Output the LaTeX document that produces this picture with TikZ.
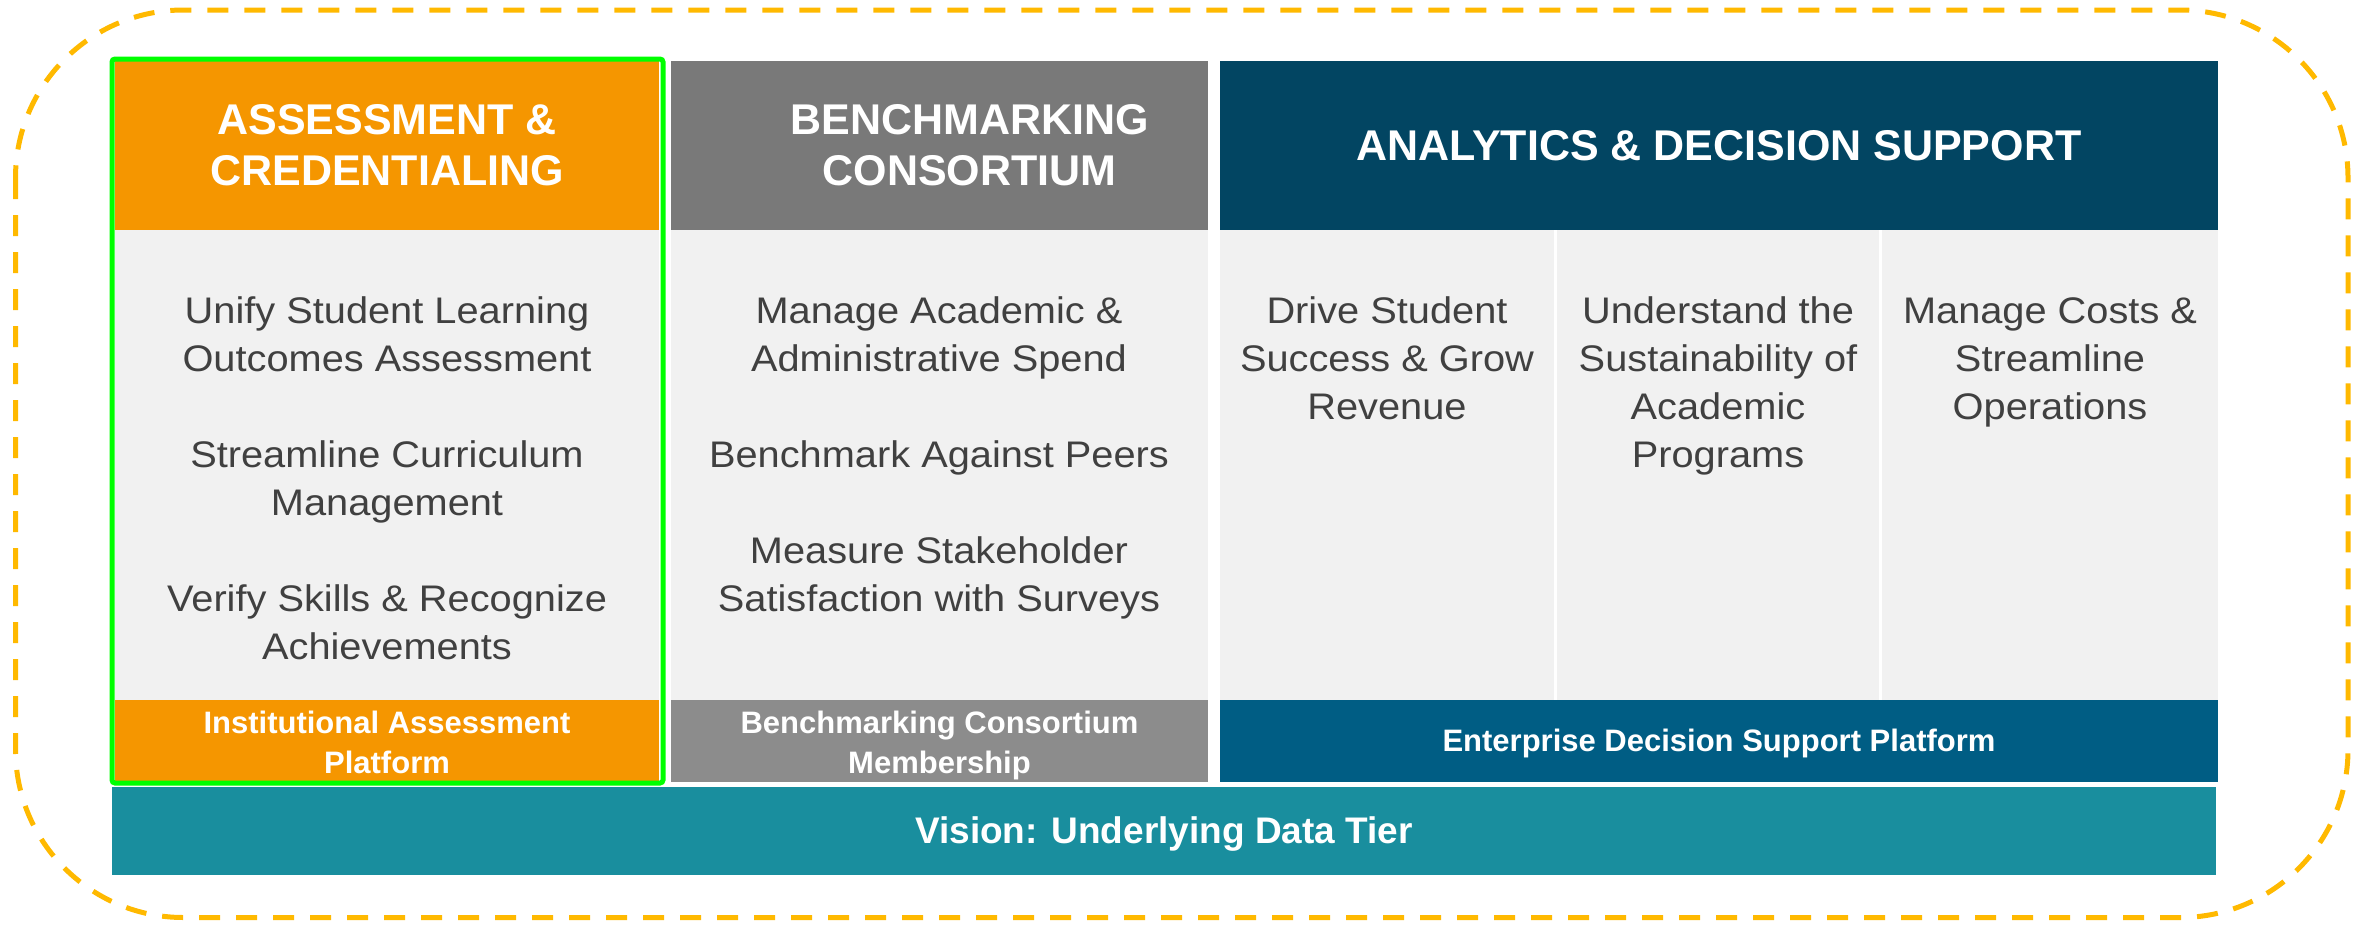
\documentclass[tikz,border=0pt]{standalone}
\usepackage{fontspec}
\setmainfont{Liberation Sans}
\newfontfamily\bodyfont{Liberation Sans}[FakeStretch=1.075]
\definecolor{cOrange}{RGB}{245,150,0}
\definecolor{cGrayH}{RGB}{121,121,121}
\definecolor{cNavy}{RGB}{2,69,98}
\definecolor{cLight}{RGB}{241,241,241}
\definecolor{cGrayF}{RGB}{140,140,140}
\definecolor{cBlueF}{RGB}{0,93,132}
\definecolor{cTeal}{RGB}{25,142,158}
\definecolor{cAmber}{RGB}{255,185,0}
\definecolor{cGreen}{RGB}{0,255,0}
\definecolor{cText}{RGB}{64,64,64}
\begin{document}
\begin{tikzpicture}[x=1pt,y=-1pt,
  cell/.style={inner sep=0pt, outer sep=0pt, anchor=north west, draw=none},
  headtxt/.style={inner sep=0pt, text=white, align=center, font=\bfseries\fontsize{43}{51}\selectfont},
  foottxt/.style={inner sep=0pt, text=white, align=center, font=\bfseries\fontsize{31}{40}\selectfont},
  visiontxt/.style={inner sep=0pt, text=white, align=center, font=\bfseries\fontsize{37}{44}\selectfont},
  bodytxt/.style={inner sep=0pt, anchor=north, text=cText, align=center, font=\bodyfont\fontsize{37}{48}\selectfont},
  dashframe/.style={draw=cAmber, line width=5pt, dash pattern=on 21pt off 16pt, rounded corners=168pt},
  greenframe/.style={draw=cGreen, line width=5pt, rounded corners=3pt}
]
\useasboundingbox (0,0) rectangle (2365,924);

% outer dashed frame
\draw[dashframe] (15.5,10) rectangle (2348,917.5);

% headers
\node[cell, fill=cOrange, minimum width=544pt, minimum height=169pt] (hdrA) at (115,61) {};
\node[cell, fill=cGrayH, minimum width=537pt, minimum height=169pt] (hdrB) at (671,61) {};
\node[cell, fill=cNavy, minimum width=998pt, minimum height=169pt] (hdrC) at (1220,61) {};

% bodies
\node[cell, fill=cLight, minimum width=544pt, minimum height=470pt] (bodyA) at (115,230) {};
\node[cell, fill=cLight, minimum width=537pt, minimum height=470pt] (bodyB) at (671,230) {};
\node[cell, fill=cLight, minimum width=334pt, minimum height=470pt] (bodyC1) at (1220,230) {};
\node[cell, fill=cLight, minimum width=322pt, minimum height=470pt] (bodyC2) at (1557,230) {};
\node[cell, fill=cLight, minimum width=336pt, minimum height=470pt] (bodyC3) at (1882,230) {};

% footers
\node[cell, fill=cOrange, minimum width=544pt, minimum height=82pt] (footA) at (115,700) {};
\node[cell, fill=cGrayF, minimum width=537pt, minimum height=82pt] (footB) at (671,700) {};
\node[cell, fill=cBlueF, minimum width=998pt, minimum height=82pt] (footC) at (1220,700) {};

% vision bar
\node[cell, fill=cTeal, minimum width=2104pt, minimum height=88pt] (vision) at (112,787) {};

% header texts
\node[headtxt] (hdrAtxt) at (hdrA.center) {ASSESSMENT \&\\CREDENTIALING};
\node[headtxt] (hdrBtxt) at ([xshift=30pt]hdrB.center) {BENCHMARKING\\CONSORTIUM};
\node[headtxt] (hdrCtxt) at (hdrC.center) {ANALYTICS \& DECISION SUPPORT};

% body texts
\node[bodytxt] (bodyAtxt) at (387,289.4) {\strut Unify Student Learning\\Outcomes Assessment\\[48pt]Streamline Curriculum\\Management\\[48pt]Verify Skills \& Recognize\\Achievements};
\node[bodytxt] (bodyBtxt) at (939,289.4) {\strut Manage Academic \&\\Administrative Spend\\[48pt]Benchmark Against Peers\\[48pt]Measure Stakeholder\\Satisfaction with Surveys};
\node[bodytxt] (bodyC1txt) at (1387,289.4) {\strut Drive Student\\Success \& Grow\\Revenue};
\node[bodytxt] (bodyC2txt) at (1718,289.4) {\strut Understand the\\Sustainability of\\Academic\\Programs};
\node[bodytxt] (bodyC3txt) at (2050,289.4) {\strut Manage Costs \&\\Streamline\\Operations};

% footer texts
\node[foottxt] (footAtxt) at ([yshift=-1pt]footA.center) {Institutional Assessment\\Platform};
\node[foottxt] (footBtxt) at ([yshift=-4pt]footB.center) {Benchmarking Consortium\\Membership};
\node[foottxt] (footCtxt) at ([yshift=-2pt]footC.center) {Enterprise Decision Support Platform};
\node[visiontxt] (visiontxtnode) at ([yshift=-3pt]vision.center) {Vision: Underlying Data Tier};

% green highlight frame
\draw[greenframe] (112,59) rectangle (663,783);
\end{tikzpicture}
\end{document}
